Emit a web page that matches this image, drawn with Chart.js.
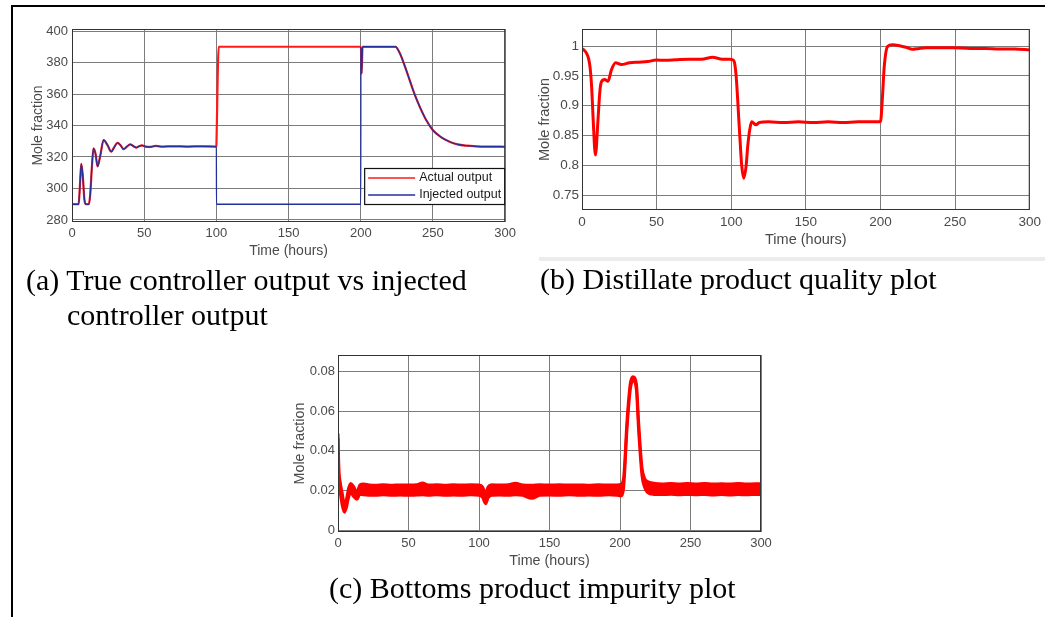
<!DOCTYPE html>
<html>
<head>
<meta charset="utf-8">
<script src="https://cdn.jsdelivr.net/npm/chart.js@4.4.1/dist/chart.umd.min.js"></script>
<style>
  html, body { margin: 0; padding: 0; background: #fff; }
  #page { position: relative; width: 1045px; height: 617px; overflow: hidden; }
  canvas { position: absolute; }
  svg { position: absolute; left: 0; top: 0; }
  .cap { font-family: "Liberation Serif", "Times New Roman", serif; font-size: 30px; fill: #000; }
</style>
</head>
<body>
<div id="page">
  <canvas id="chartA" width="520" height="270" style="left:0px;top:0px"></canvas>
  <canvas id="chartB" width="525" height="260" style="left:520px;top:0px"></canvas>
  <canvas id="chartC" width="500" height="240" style="left:280px;top:340px"></canvas>
  <svg width="1045" height="617">
    <line x1="11" y1="6" x2="1045" y2="6" stroke="#000" stroke-width="2"/>
    <line x1="12" y1="5" x2="12" y2="617" stroke="#000" stroke-width="2"/>
    <rect x="539" y="257" width="506" height="4" fill="#ececec"/>
    <text class="cap" x="26" y="290">(a) True controller output vs injected</text>
    <text class="cap" x="67" y="325">controller output</text>
    <text class="cap" x="540" y="289">(b) Distillate product quality plot</text>
    <text class="cap" x="329" y="598">(c) Bottoms product impurity plot</text>
  </svg>
</div>
<script>
// shared time axis
const timeTicks = [0, 50, 100, 150, 200, 250, 300];

// (a) controller output
const tA = [0, 4.6, 5.5, 6.4, 7.4, 8.6, 9.6, 11.6, 12.6, 13.8,
  14.9, 16.3, 17.7, 19.6, 21.9, 24.6, 27.2, 29.4, 31.5, 33.6,
  35.7, 38, 40.3, 42.4, 44.4, 46.4, 48.4, 51, 54, 58,
  63, 70, 80, 90, 100, 100.05, 101.6, 150, 200, 200.1,
  200.6, 201.2, 224, 227, 230, 233.8, 237, 240.8, 245, 250,
  255, 261.5, 267, 273, 280, 290, 300];
const actualA = [290, 290, 302, 315.6, 309, 293, 290, 290, 296, 314,
  325.5, 322, 314, 321, 330.8, 327.5, 323.4, 326.5, 329, 327.5,
  325, 326.6, 328, 327, 326, 326.8, 327.4, 326.6, 326.4, 327,
  326.6, 326.8, 326.6, 326.8, 326.6, 328.5, 390, 390, 390, 390,
  373, 390, 390, 386, 379, 369, 360.5, 352, 344, 337,
  333, 329.7, 328, 327.2, 326.8, 326.6, 326.5];
const injectedA = [290, 290, 302, 315.6, 309, 293, 290, 290, 296, 314,
  325.5, 322, 314, 321, 330.8, 327.5, 323.4, 326.5, 329, 327.5,
  325, 326.6, 328, 327, 326, 326.8, 327.4, 326.6, 326.4, 327,
  326.6, 326.8, 326.6, 326.8, 326.6, 290, 290, 290, 290, 390,
  373, 390, 390, 386, 379, 369, 360.5, 352, 344, 337,
  333, 329.7, 328, 327.2, 326.8, 326.6, 326.5];
const yTicksA = [280, 300, 320, 340, 360, 380, 400];

// (b) distillate quality
const tB = [0, 1.5, 3, 4.5, 5.5, 6.5, 7.5, 9, 10.7, 12,
  13, 15.2, 17.4, 19.7, 22.5, 26.3, 31.9, 38, 44, 49.8,
  56, 63, 72, 80, 87.6, 94, 98.8, 101, 102.2, 103.3,
  105.5, 107, 108.4, 110, 111, 112.4, 113.7, 116.6, 118.8, 125,
  135, 145, 155, 165, 175, 185, 195, 200, 201.2, 202.5,
  204.7, 208, 212, 217, 221.5, 226, 230.5, 240, 248.4, 260,
  270, 280, 290, 300];
const qualityB = [0.9955, 0.993, 0.988, 0.978, 0.962, 0.93, 0.876, 0.8175, 0.876, 0.925,
  0.94, 0.944, 0.941, 0.96, 0.972, 0.969, 0.972, 0.973, 0.974, 0.9765,
  0.976, 0.977, 0.978, 0.978, 0.981, 0.978, 0.978, 0.977, 0.972, 0.949,
  0.859, 0.8, 0.7785, 0.8, 0.831, 0.86, 0.873, 0.868, 0.872, 0.873,
  0.872, 0.873, 0.872, 0.873, 0.872, 0.873, 0.873, 0.873, 0.91, 0.965,
  0.999, 1.002, 1.001, 0.998, 0.9945, 0.996, 0.997, 0.997, 0.997, 0.996,
  0.996, 0.995, 0.995, 0.9935];
const yTicksB = [0.75, 0.8, 0.85, 0.9, 0.95, 1];

// (c) bottoms impurity, noise band given by its upper and lower edge
const tC = [0, 0.6, 1.5, 3, 4.5, 6, 7.5, 9, 11, 13.4,
  15.5, 18, 22, 27, 32, 38, 44, 50, 56, 60,
  64, 70, 76, 82, 88, 94, 100, 102.5, 104.7, 106.5,
  109, 115, 121, 126, 131, 137.5, 143, 150, 157, 164,
  171, 178, 185, 192, 198, 200.5, 202.5, 205, 207.3, 209.2,
  211.6, 213.2, 215.6, 217.5, 219.5, 224, 230, 236, 242, 248,
  254, 260, 266, 272, 278, 284, 290, 296, 300];
const upperC = [0.0488, 0.031, 0.0245, 0.0185, 0.013, 0.0155, 0.021, 0.0235, 0.022, 0.019,
  0.0228, 0.0232, 0.0228, 0.0226, 0.0229, 0.0226, 0.0228, 0.0227, 0.0229, 0.0237,
  0.0227, 0.0229, 0.0226, 0.0229, 0.0227, 0.0229, 0.0227, 0.0218, 0.0185, 0.0218,
  0.0229, 0.0227, 0.0229, 0.0236, 0.0227, 0.0226, 0.0229, 0.0227, 0.0229, 0.0227,
  0.0228, 0.0226, 0.0229, 0.0227, 0.0228, 0.023, 0.026, 0.0555, 0.074, 0.0775,
  0.074, 0.0545, 0.0315, 0.026, 0.0245, 0.0236, 0.0233, 0.0235, 0.0232, 0.0235,
  0.0232, 0.0235, 0.0232, 0.0234, 0.0232, 0.0235, 0.0232, 0.0234, 0.0233];
const lowerC = [0.0465, 0.026, 0.0195, 0.0125, 0.009, 0.0115, 0.0165, 0.019, 0.017, 0.0155,
  0.018, 0.0178, 0.0176, 0.0175, 0.0178, 0.0175, 0.0177, 0.0175, 0.0177, 0.0178,
  0.0175, 0.0178, 0.0175, 0.0177, 0.0175, 0.0178, 0.0175, 0.0165, 0.0133, 0.0163,
  0.0175, 0.0177, 0.0175, 0.0178, 0.0175, 0.016, 0.0175, 0.0177, 0.0175, 0.0178,
  0.0175, 0.0177, 0.0175, 0.0178, 0.0175, 0.0172, 0.021, 0.0515, 0.071, 0.0755,
  0.071, 0.0505, 0.0275, 0.0215, 0.019, 0.018, 0.0179, 0.0181, 0.0178, 0.018,
  0.0178, 0.018, 0.0177, 0.018, 0.0177, 0.0179, 0.0178, 0.018, 0.0178];
const yTicksC = [0, 0.02, 0.04, 0.06, 0.08];

const pts = (xs, ys) => xs.map((x, i) => ({ x: x, y: ys[i] }));

const gridColor = '#7c7c7c';
const textColor = '#4a4a4a';

// axes box drawn over the plot area
const frame = {
  id: 'frame',
  afterDraw(chart) {
    const a = chart.chartArea;
    const ctx = chart.ctx;
    ctx.save();
    ctx.strokeStyle = '#333';
    ctx.lineWidth = 1;
    ctx.strokeRect(a.left + 0.5, a.top + 0.5, a.right - a.left - 1, a.bottom - a.top - 1);
    ctx.restore();
  }
};

// boxed legend in the lower right corner of the plot
const cornerLegend = {
  id: 'cornerLegend',
  afterDraw(chart) {
    const a = chart.chartArea;
    const ctx = chart.ctx;
    const w = 141, h = 37;
    const x = a.right - w, y = a.bottom - 17 - h;
    ctx.save();
    ctx.fillStyle = '#fff';
    ctx.fillRect(x, y, w, h);
    ctx.strokeStyle = '#111';
    ctx.lineWidth = 1.2;
    ctx.strokeRect(x + 0.5, y + 0.5, w - 1, h - 1);
    ctx.font = '12.5px "Liberation Sans", Arial, sans-serif';
    ctx.textBaseline = 'middle';
    chart.data.datasets.forEach((ds, i) => {
      const ly = y + 10 + i * 17;
      ctx.strokeStyle = ds.borderColor;
      ctx.lineWidth = 1.6;
      ctx.beginPath();
      ctx.moveTo(x + 4, ly);
      ctx.lineTo(x + 51, ly);
      ctx.stroke();
      ctx.fillStyle = '#1a1a1a';
      ctx.fillText(ds.label, x + 55, ly);
    });
    ctx.restore();
  }
};

function scales(o) {
  return {
    x: {
      type: 'linear', min: 0, max: 300,
      afterBuildTicks: s => { s.ticks = timeTicks.map(v => ({ value: v })); },
      afterFit: s => { s.height = o.xHeight; },
      grid: { color: gridColor, drawTicks: false },
      border: { display: false },
      ticks: {
        padding: o.xPad, color: textColor, autoSkip: false, maxRotation: 0,
        font: { family: 'Liberation Sans', size: o.tickSize },
        callback: v => String(v)
      },
      title: {
        display: true, text: 'Time (hours)', color: textColor, padding: 0,
        font: { family: 'Liberation Sans', size: o.titleSize }
      }
    },
    y: {
      type: 'linear', min: o.yMin, max: o.yMax,
      afterBuildTicks: s => { s.ticks = o.yTicks.map(v => ({ value: v })); },
      afterFit: s => { s.width = o.yWidth; },
      grid: { color: gridColor, drawTicks: false },
      border: { display: false },
      ticks: {
        padding: o.yPad, color: textColor, autoSkip: false,
        font: { family: 'Liberation Sans', size: o.tickSize },
        callback: v => String(v)
      },
      title: {
        display: true, text: 'Mole fraction', color: textColor, padding: 0,
        font: { family: 'Liberation Sans', size: o.titleSize }
      }
    }
  };
}

function makeChart(id, datasets, o, extra) {
  return new Chart(document.getElementById(id), {
    type: 'line',
    data: { datasets: datasets },
    options: {
      responsive: false,
      animation: false,
      devicePixelRatio: 1,
      events: [],
      layout: { padding: o.padding },
      elements: { point: { radius: 0 }, line: { cubicInterpolationMode: 'monotone' } },
      plugins: { legend: { display: false }, tooltip: { enabled: false } },
      scales: scales(o)
    },
    plugins: [frame].concat(extra || [])
  });
}

makeChart('chartA', [
  { label: 'Actual output', data: pts(tA, actualA), borderColor: '#ff1a1a', borderWidth: 2.2, order: 2 },
  { label: 'Injected output', data: pts(tA, injectedA), borderColor: '#23309a', borderWidth: 1.3, order: 1 }
], {
  padding: { left: 30, top: 29, right: 13, bottom: 10 },
  yWidth: 42, xHeight: 38, xPad: 4, yPad: 4,
  tickSize: 13, titleSize: 14,
  yMin: 278.73, yMax: 401.27, yTicks: yTicksA
}, [cornerLegend]);

makeChart('chartB', [
  { label: 'Distillate', data: pts(tB, qualityB), borderColor: '#ff0000', borderWidth: 3 }
], {
  padding: { left: 16, top: 29, right: 14, bottom: 11 },
  yWidth: 46, xHeight: 39, xPad: 4, yPad: 3,
  tickSize: 13.5, titleSize: 14.5,
  yMin: 0.7254, yMax: 1.0285, yTicks: yTicksB
});

makeChart('chartC', [
  { label: 'Impurity upper', data: pts(tC, upperC), borderColor: '#ff0000', backgroundColor: '#ff0000', borderWidth: 3, fill: '+1' },
  { label: 'Impurity lower', data: pts(tC, lowerC), borderColor: '#ff0000', borderWidth: 3, fill: false }
], {
  padding: { left: 11, top: 15, right: 19, bottom: 10 },
  yWidth: 47, xHeight: 38, xPad: 4, yPad: 3,
  tickSize: 13, titleSize: 14.3,
  yMin: -0.00101, yMax: 0.08844, yTicks: yTicksC
});
</script>
</body>
</html>
